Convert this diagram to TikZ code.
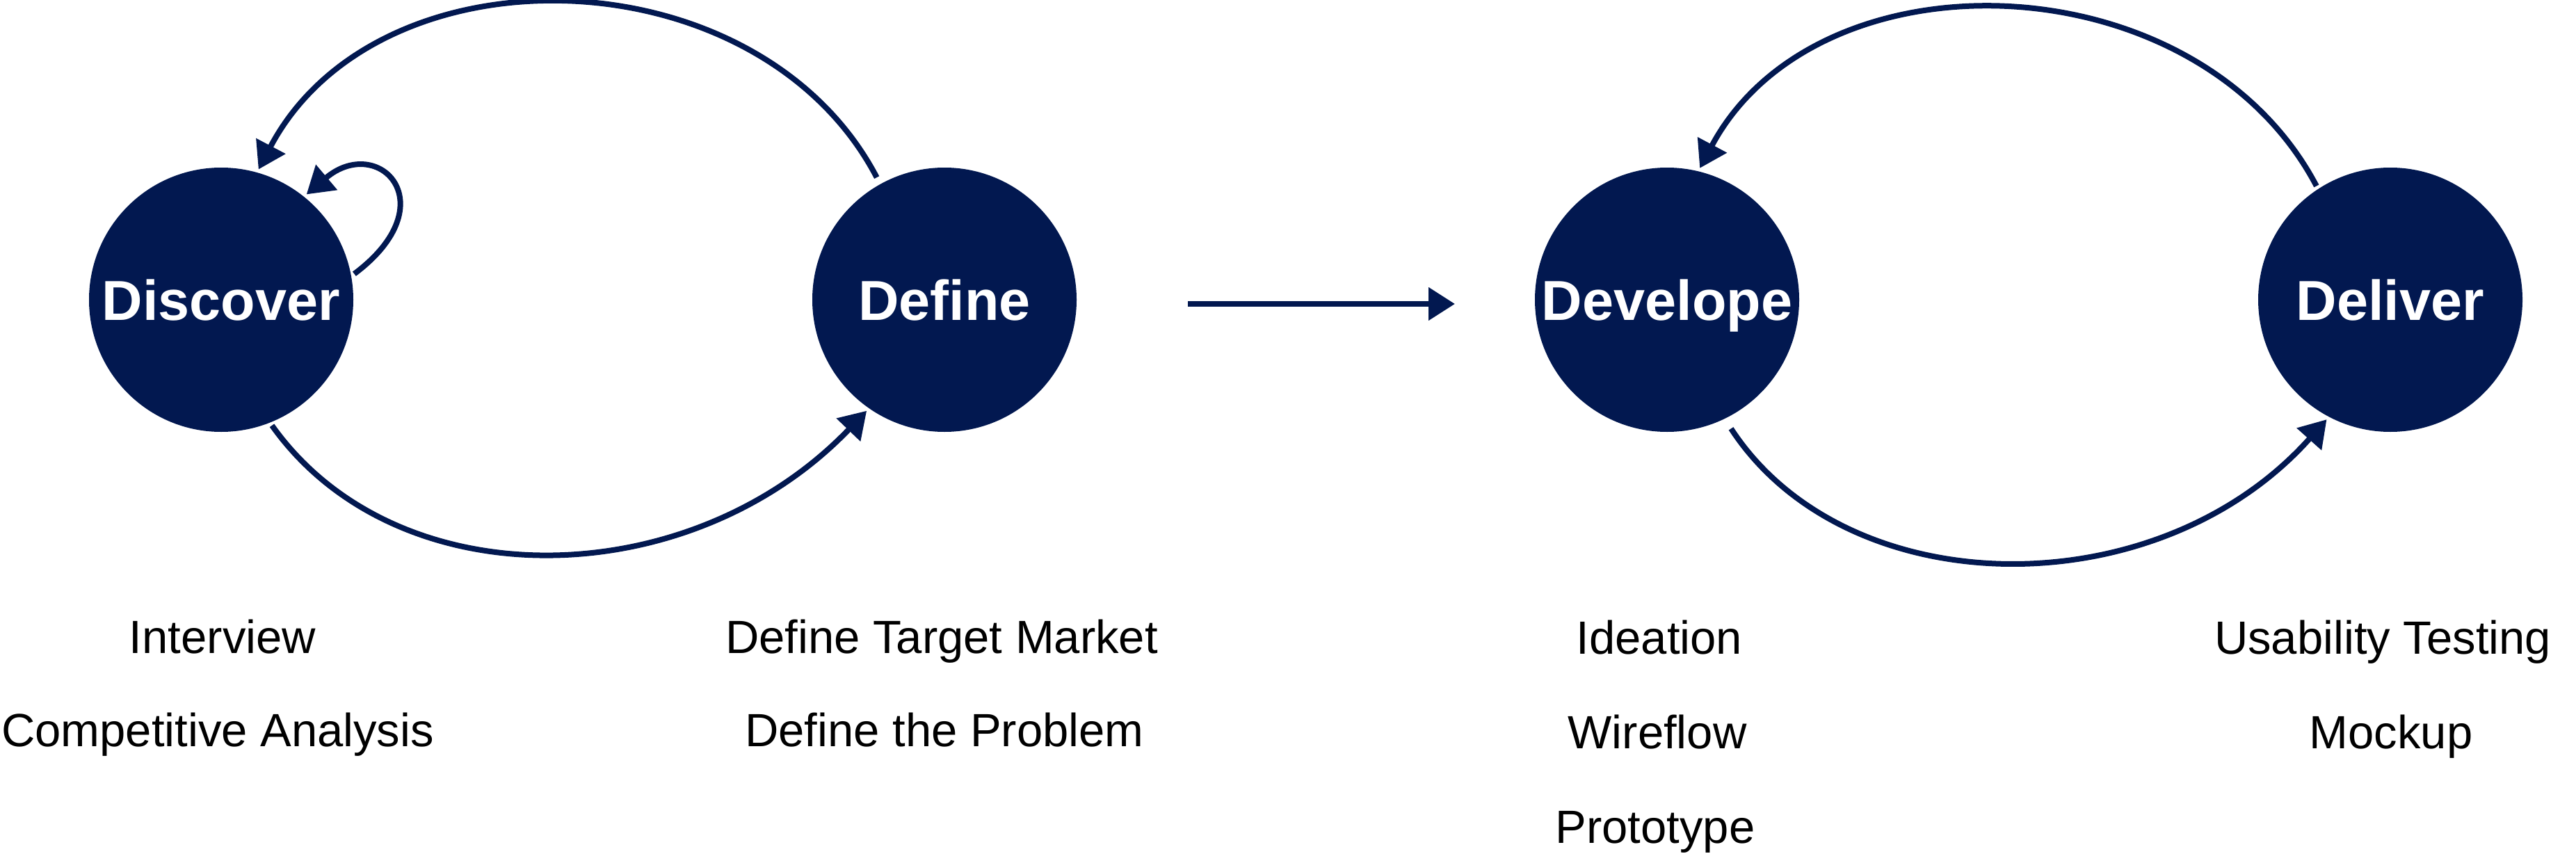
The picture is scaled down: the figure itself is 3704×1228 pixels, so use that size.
\documentclass[tikz,border=0pt]{standalone}
\usepackage{fontspec}
\setmainfont{Liberation Sans}
\usetikzlibrary{arrows.meta}
\definecolor{navy}{RGB}{2,24,80}
\begin{document}
\begin{tikzpicture}[x=1pt,y=-1pt,
  phase/.style={circle,fill=navy,minimum size=380pt,inner sep=0pt,outer sep=5pt,
    text=white,font=\fontsize{81}{90}\selectfont\bfseries,text height=58pt,text depth=0pt},
  lbl/.style={anchor=base,font=\fontsize{67}{80}\selectfont,text=black,inner sep=0pt},
  conn/.style={draw=navy,line width=8pt,-{Triangle[length=38pt,width=46pt]}}]
\fill[white] (0,0) rectangle (3704,1228);
\useasboundingbox (0,0) rectangle (3704,1228);

\node[phase] (dis) at (318,431) {Discover};
\node[phase] (def) at (1358,431) {Define};
\node[phase] (dev) at (2397,431) {Develope};
\node[phase] (del) at (3437,431) {Deliver};

\draw[conn,shorten <=6pt] (def.119) .. controls (1091,-69) and (544,-83) .. (dis.74);
\draw[conn] (dis.11) .. controls (644,293) and (544,192) .. (dis.51);
\draw[conn] (dis.-68) .. controls (571,865) and (993,855) .. (def.-125);
\draw[conn] (del.123) .. controls (3159,-59) and (2614,-76) .. (dev.76);
\draw[conn,shorten <=12pt] (dev.-64) .. controls (2655,871) and (3102,876) .. (del.-118);

\coordinate (a1) at (1708,437);
\coordinate (a2) at (2092,437);
\draw[conn] (a1) -- (a2);

\node[lbl] (l1) at (320,939) {Interview};
\node[lbl] (l2) at (313,1073) {Competitive Analysis};
\node[lbl] (l3) at (1354,939) {Define Target Market};
\node[lbl] (l4) at (1358,1073) {Define the Problem};
\node[lbl] (l5) at (2386,940) {Ideation};
\node[lbl] (l6) at (2383,1076) {Wireflow};
\node[lbl] (l7) at (2380,1212) {Prototype};
\node[lbl] (l8) at (3426,940) {Usability Testing};
\node[lbl] (l9) at (3438,1076) {Mockup};
\end{tikzpicture}
\end{document}
